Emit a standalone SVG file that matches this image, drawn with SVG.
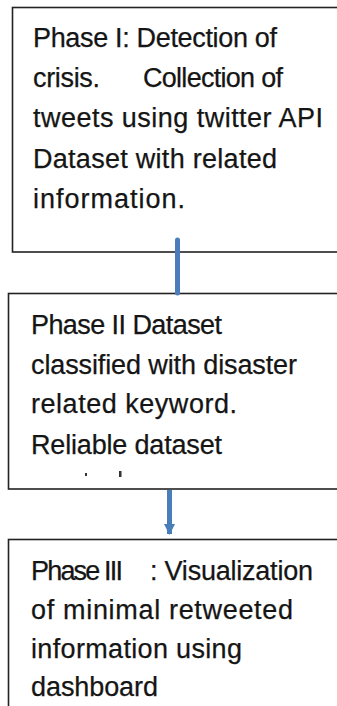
<svg xmlns="http://www.w3.org/2000/svg" width="337" height="706" viewBox="0 0 337 706">
<style>
.box{fill:#fff;stroke:#222;stroke-width:1.6}
.t{font-family:"Liberation Sans",Arial,sans-serif;font-size:27px;fill:#151515;stroke:#151515;stroke-width:0.25}
.conn{stroke:#4a7ebb;stroke-width:5;fill:none}
</style>
<defs>
<marker id="ah" viewBox="0 0 10 10" refX="9" refY="5" markerWidth="2.2" markerHeight="2.2" orient="auto" markerUnits="strokeWidth">
<path d="M0,0 L10,5 L0,10 Z" fill="#4a7ebb"/>
</marker>
</defs>
<rect width="337" height="706" fill="#fff"/>
<g id="phase1">
<rect class="box" x="12.5" y="7.5" width="340" height="244.5"/>
<text class="t" x="33" y="47" textLength="244">Phase I: Detection of</text>
<text class="t" x="33" y="87" textLength="67">crisis.</text>
<text class="t" x="143" y="87" textLength="140">Collection of</text>
<text class="t" x="33" y="127" textLength="290">tweets using twitter API</text>
<text class="t" x="33" y="168" textLength="244">Dataset with related</text>
<text class="t" x="33" y="208" textLength="152">information.</text>
</g>
<g id="phase2">
<rect class="box" x="8.5" y="293.5" width="340" height="195.5"/>
<text class="t" x="31" y="334" textLength="191">Phase II Dataset</text>
<text class="t" x="31" y="374" textLength="266">classified with disaster</text>
<text class="t" x="31" y="413" textLength="206">related keyword.</text>
<text class="t" x="31" y="454" textLength="191">Reliable dataset</text>
<rect x="85" y="473" width="2" height="3" fill="#333"/>
<rect x="119" y="471" width="2.5" height="6" fill="#333"/>
</g>
<g id="phase3">
<rect class="box" x="8.5" y="539.5" width="340" height="180"/>
<text class="t" x="31" y="580" textLength="92">Phase III</text>
<text class="t" x="150" y="580" textLength="163">: Visualization</text>
<text class="t" x="31" y="619" textLength="262">of minimal retweeted</text>
<text class="t" x="31" y="658" textLength="211">information using</text>
<text class="t" x="31" y="696" textLength="127">dashboard</text>
</g>
<g id="connectors">
<line class="conn" x1="177.5" y1="240" x2="177.5" y2="293" stroke-linecap="round"/>
<line class="conn" x1="169.5" y1="490" x2="169.5" y2="534" stroke-width="4" marker-end="url(#ah)"/>
</g>
</svg>
